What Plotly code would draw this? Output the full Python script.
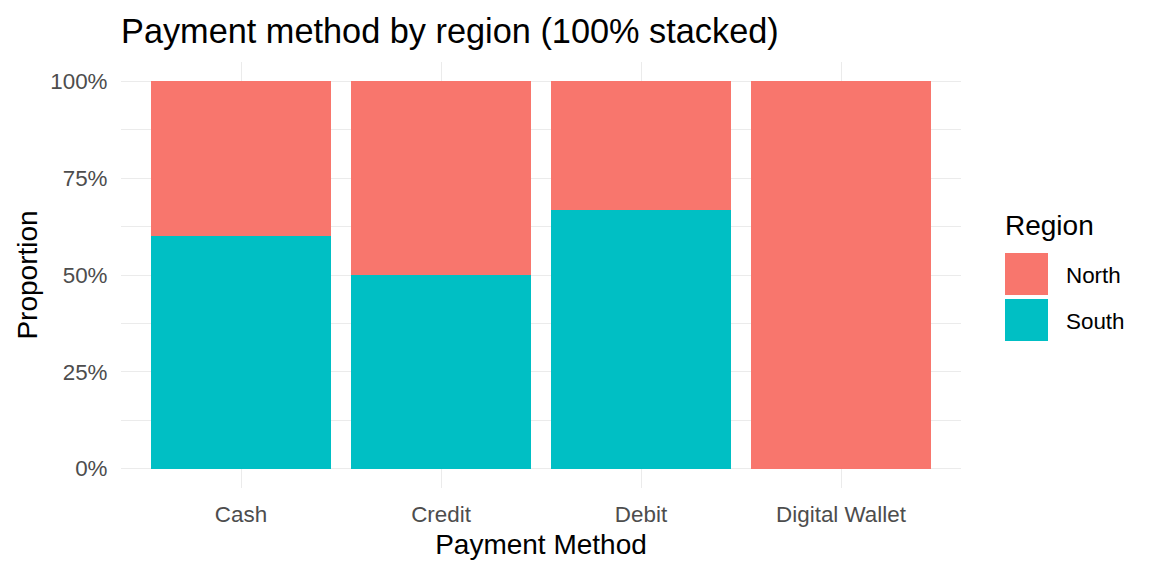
import plotly.graph_objects as go

# data: share of each payment method by region
methods = ["Cash", "Credit", "Debit", "Digital Wallet"]
north = [0.40, 0.50, 0.333, 1.00]
south = [0.60, 0.50, 0.667, 0.00]
regions = ["North", "South"]
colors = {"North": "#F8766D", "South": "#00BFC4"}
y_ticks = [0, 0.25, 0.5, 0.75, 1.0]
y_tick_labels = ["0%", "25%", "50%", "75%", "100%"]

FONT = "Liberation Sans, Arial, sans-serif"
GRID = "#EBEBEB"
TICK_SIZE = 22.4
TITLE_SIZE = 28
# page has an 8px body margin, so the figure starts at (8, 8)
OFF = 8
L, T, R, B = 121 - OFF, 62 - OFF, 191, 88
PW, PH = 840, 426

fig = go.Figure()
# South first so it sits at the bottom of the stack
fig.add_trace(go.Bar(x=methods, y=south, name="South", marker_color=colors["South"],
                     marker_line_width=0, showlegend=False))
fig.add_trace(go.Bar(x=methods, y=north, name="North", marker_color=colors["North"],
                     marker_line_width=0, showlegend=False))

# ggplot-style legend with big keys (page pixels converted to paper coords)
def px(x):
    return (x - 121) / PW

def py(y):
    return 1 - (y - 62) / PH

shapes = []
annotations = []
key_top = 253
for i, reg in enumerate(regions):
    y0 = key_top + i * 46
    shapes.append(dict(type="rect", xref="paper", yref="paper",
                       x0=px(1005), x1=px(1048), y0=py(y0), y1=py(y0 + 42),
                       fillcolor=colors[reg], line_width=0, layer="above"))
    annotations.append(dict(text=reg, xref="paper", yref="paper",
                            x=px(1064), y=py(y0 + 22),
                            xanchor="left", yanchor="middle", showarrow=False,
                            font=dict(family=FONT, size=TICK_SIZE, color="black")))
annotations.append(dict(text="Region", xref="paper", yref="paper",
                        x=px(1003), y=py(225),
                        xanchor="left", yanchor="middle", showarrow=False,
                        font=dict(family=FONT, size=TITLE_SIZE, color="black")))

fig.update_layout(
    barmode="stack",
    bargap=0.1,
    width=1152 - OFF, height=576 - OFF,
    margin=dict(l=L, r=R, t=T, b=B),
    paper_bgcolor="white", plot_bgcolor="white",
    title=dict(text="Payment method by region (100% stacked)",
               x=(121 - OFF) / (1152 - OFF), xanchor="left",
               xref="container", yref="container",
               y=1 - (31 - OFF) / (576 - OFF), yanchor="middle",
               font=dict(family=FONT, size=34.3, color="black")),
    font=dict(family=FONT),
    shapes=shapes,
    annotations=annotations,
)
fig.update_xaxes(
    type="category", range=[-0.6, 3.6],
    showgrid=True, gridcolor=GRID, gridwidth=1.2, zeroline=False, showline=False,
    ticks="outside", ticklen=6, tickcolor="rgba(0,0,0,0)",
    tickfont=dict(family=FONT, size=TICK_SIZE, color="#4D4D4D"),
    title=dict(text="Payment Method", font=dict(family=FONT, size=TITLE_SIZE, color="black"), standoff=8),
)
fig.update_yaxes(
    range=[-0.05, 1.05], tickvals=y_ticks, ticktext=y_tick_labels,
    showgrid=True, gridcolor=GRID, gridwidth=1.2, zeroline=False, showline=False,
    minor=dict(tickvals=[0.125, 0.375, 0.625, 0.875], showgrid=True, gridcolor=GRID, gridwidth=0.6),
    ticks="outside", ticklen=8, tickcolor="rgba(0,0,0,0)",
    tickfont=dict(family=FONT, size=TICK_SIZE, color="#4D4D4D"),
    title=dict(text="Proportion", font=dict(family=FONT, size=TITLE_SIZE, color="black"), standoff=4),
)

fig.write_html("out.html")
